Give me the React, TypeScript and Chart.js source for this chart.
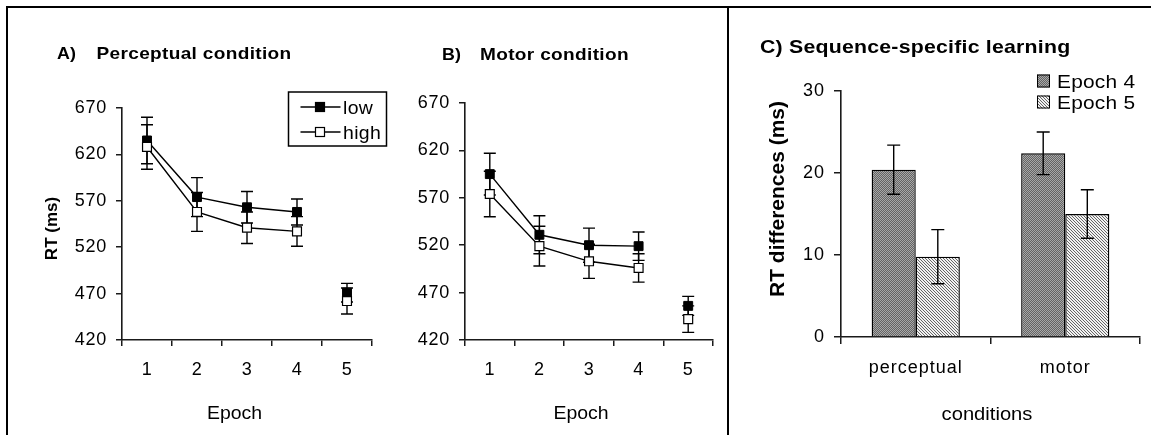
import React, { useEffect, useRef } from 'react';
import { Chart, registerables } from 'chart.js';

Chart.register(...registerables);

// ---------- data ----------
const epochs = ['1', '2', '3', '4', '5'];

const percLow = [635, 574, 563, 558, 471];
const percLowErr = [25, 21, 17, 14, 10];
const percHigh = [628, 558, 541, 537, 462];
const percHighErr = [24, 21, 17, 16, 14];

const motorLow = [595, 531, 520, 519, 456];
const motorLowErr = [22, 20, 18, 15, 10];
const motorHigh = [574, 519, 503, 496, 442];
const motorHighErr = [24, 21, 18, 15, 14];

const conditions = ['perceptual', 'motor'];
const epoch4 = [20.4, 22.4];
const epoch4Err = [3.0, 2.6];
const epoch5 = [9.8, 15.0];
const epoch5Err = [3.3, 2.95];

const rtMin = 420;
const rtMax = 670;
const rtStep = 50;
const diffMin = 0;
const diffMax = 30;
const diffStep = 10;

const seriesNames = ['low', 'high'];
const barNames = ['Epoch 4', 'Epoch 5'];

// ---------- styling ----------
const FONT = '"Liberation Sans", Arial, Helvetica, sans-serif';
const AXIS = '#1a1a1a';
const H = 435;

Chart.defaults.font.family = FONT;
Chart.defaults.color = '#000';

type TextItem = {
  text: string;
  x: number;
  y: number;
  font: string;
  align?: CanvasTextAlign;
  baseline?: CanvasTextBaseline;
  rotate?: number;
  ls?: number;
  sx?: number;
};

const spacingPlugin = (ls: string) => ({
  id: 'letterSpacing',
  beforeLayout(chart: any) {
    chart.ctx.letterSpacing = ls;
  },
  beforeDraw(chart: any) {
    chart.ctx.letterSpacing = ls;
  },
});

function drawText(ctx: any, t: TextItem) {
  ctx.save();
  ctx.font = t.font;
  ctx.fillStyle = '#000';
  ctx.letterSpacing = (t.ls || 0) + 'px';
  ctx.textAlign = t.align || 'left';
  ctx.textBaseline = t.baseline || 'alphabetic';
  ctx.translate(t.x, t.y);
  if (t.rotate) ctx.rotate(t.rotate);
  if (t.sx) ctx.scale(t.sx, 1);
  ctx.fillText(t.text, 0, 0);
  ctx.restore();
}

const textPlugin = (items: TextItem[]) => ({
  id: 'texts',
  afterDraw(chart: any) {
    items.forEach((t) => drawText(chart.ctx, t));
  },
});

function drawErrors(chart: any, cap: number, width: number) {
  const ctx = chart.ctx;
  const ys = chart.scales.y;
  chart.data.datasets.forEach((ds: any, di: number) => {
    const errs: number[] | undefined = ds.errors;
    if (!errs) return;
    const meta = chart.getDatasetMeta(di);
    meta.data.forEach((el: any, i: number) => {
      const v = ds.data[i];
      const e = errs[i];
      if (v == null || e == null) return;
      const x = el.x;
      const yt = ys.getPixelForValue(v + e);
      const yb = ys.getPixelForValue(v - e);
      ctx.save();
      ctx.strokeStyle = '#000';
      ctx.lineWidth = width;
      ctx.beginPath();
      ctx.moveTo(x, yt);
      ctx.lineTo(x, yb);
      ctx.moveTo(x - cap, yt);
      ctx.lineTo(x + cap, yt);
      ctx.moveTo(x - cap, yb);
      ctx.lineTo(x + cap, yb);
      ctx.stroke();
      ctx.restore();
    });
  });
}

const errorPlugin = (under: boolean, cap: number, width: number) => ({
  id: 'errorBars',
  beforeDatasetsDraw(chart: any) {
    if (under) drawErrors(chart, cap, width);
  },
  afterDatasetsDraw(chart: any) {
    if (!under) drawErrors(chart, cap, width);
  },
});

const lineLegendPlugin = (box: { x: number; y: number; w: number; h: number }, rows: number[]) => ({
  id: 'lineLegend',
  afterDraw(chart: any) {
    const ctx = chart.ctx;
    ctx.save();
    ctx.strokeStyle = '#000';
    ctx.lineWidth = 1.5;
    ctx.strokeRect(box.x, box.y, box.w, box.h);
    seriesNames.forEach((name, i) => {
      const y = rows[i];
      ctx.beginPath();
      ctx.lineWidth = 1.4;
      ctx.moveTo(box.x + 12, y);
      ctx.lineTo(box.x + 52, y);
      ctx.stroke();
      ctx.fillStyle = i === 0 ? '#000' : '#fff';
      ctx.fillRect(box.x + 27, y - 4.5, 9, 9);
      ctx.lineWidth = 1.2;
      ctx.strokeRect(box.x + 27, y - 4.5, 9, 9);
    });
    ctx.restore();
    seriesNames.forEach((name, i) => {
      drawText(ctx, { text: name, x: box.x + 54.5, y: rows[i] + 6.5, font: '18px ' + FONT, sx: 1.08, ls: 0.3 });
    });
  },
});

function makePattern(kind: 'dots' | 'hatch'): CanvasPattern | string {
  const c = document.createElement('canvas');
  const x = c.getContext('2d');
  if (!x) return '#999';
  if (kind === 'dots') {
    c.width = 2;
    c.height = 2;
    x.fillStyle = '#a8a8a8';
    x.fillRect(0, 0, 2, 2);
    x.fillStyle = '#646464';
    x.fillRect(0, 0, 1, 1);
    x.fillRect(1, 1, 1, 1);
  } else {
    c.width = 3;
    c.height = 3;
    x.fillStyle = '#f2f2f2';
    x.fillRect(0, 0, 3, 3);
    x.fillStyle = '#666666';
    for (let i = 0; i < 3; i++) x.fillRect(i, i, 1, 1);
  }
  return x.createPattern(c, 'repeat') || '#999';
}

const barLegendPlugin = (x0: number, rows: number[], fills: any[]) => ({
  id: 'barLegend',
  afterDraw(chart: any) {
    const ctx = chart.ctx;
    ctx.save();
    barNames.forEach((name, i) => {
      const y = rows[i];
      ctx.fillStyle = fills[i];
      ctx.fillRect(x0, y - 6.5, 13, 13);
      ctx.strokeStyle = '#000';
      ctx.lineWidth = 1;
      ctx.strokeRect(x0 + 0.5, y - 6, 12, 12);
    });
    ctx.restore();
    barNames.forEach((name, i) => {
      drawText(ctx, { text: name, x: x0 + 20, y: rows[i] + 6.8, font: '19px ' + FONT, sx: 1.1, ls: 0.2 });
    });
  },
});

function axisX(tickLength: number, fontSize: number, padding: number, height: number) {
  return {
    type: 'category' as const,
    offset: true,
    grid: {
      offset: true,
      drawOnChartArea: false,
      drawTicks: true,
      tickLength,
      color: AXIS,
      lineWidth: 1.5,
    },
    border: { display: true, color: AXIS, width: 1.6 },
    ticks: {
      color: '#000',
      font: { size: fontSize, family: FONT },
      padding,
      maxRotation: 0,
      autoSkip: false,
    },
    afterFit: (s: any) => {
      s.height = height;
    },
  };
}

function axisY(min: number, max: number, step: number, tickLength: number, fontSize: number, padding: number, width: number) {
  return {
    min,
    max,
    grid: {
      drawOnChartArea: false,
      drawTicks: true,
      tickLength,
      color: AXIS,
      lineWidth: 1.5,
    },
    border: { display: true, color: AXIS, width: 1.6 },
    ticks: {
      stepSize: step,
      color: '#000',
      font: { size: fontSize, family: FONT },
      padding,
    },
    afterFit: (s: any) => {
      s.width = width;
    },
  };
}

function lineConfig(
  low: number[],
  lowErr: number[],
  high: number[],
  highErr: number[],
  padding: { left: number; right: number; top: number; bottom: number },
  texts: TextItem[],
  extra: any[]
): any {
  const seg = {
    borderColor: (c: any) => (c.p0DataIndex === 3 ? 'rgba(0,0,0,0)' : '#000'),
  };
  return {
    type: 'line',
    data: {
      labels: epochs,
      datasets: [
        {
          label: seriesNames[0],
          data: low,
          errors: lowErr,
          borderColor: '#000',
          borderWidth: 1.4,
          pointStyle: 'rect',
          pointRadius: 6.3,
          pointHoverRadius: 6.3,
          pointBackgroundColor: '#000',
          pointBorderColor: '#000',
          pointBorderWidth: 1,
          order: 2,
          segment: seg,
        },
        {
          label: seriesNames[1],
          data: high,
          errors: highErr,
          borderColor: '#000',
          borderWidth: 1.4,
          pointStyle: 'rect',
          pointRadius: 6.3,
          pointHoverRadius: 6.3,
          pointBackgroundColor: '#fff',
          pointBorderColor: '#000',
          pointBorderWidth: 1.2,
          order: 1,
          segment: seg,
        },
      ],
    },
    options: {
      responsive: false,
      animation: false,
      layout: { padding },
      plugins: { legend: { display: false }, tooltip: { enabled: false } },
      scales: {
        x: axisX(6, 18, 13, 60),
        y: axisY(rtMin, rtMax, rtStep, 6, 18, 9, 60),
      },
    },
    plugins: [spacingPlugin('0.7px'), errorPlugin(true, 6, 1.4), textPlugin(texts), ...extra],
  };
}

function configA(): any {
  return lineConfig(
    percLow,
    percLowErr,
    percHigh,
    percHighErr,
    { left: 62, right: 28, top: 108, bottom: 35 },
    [
      { text: 'A)', x: 57, y: 58.5, font: 'bold 17px ' + FONT, sx: 1.05 },
      { text: 'Perceptual condition', x: 96.5, y: 58.5, font: 'bold 17px ' + FONT, sx: 1.12, ls: 0.3 },
      { text: 'RT (ms)', x: 52, y: 228.5, font: 'bold 17px ' + FONT, align: 'center', baseline: 'middle', rotate: -Math.PI / 2 },
      { text: 'Epoch', x: 234.5, y: 419, font: '18px ' + FONT, align: 'center', sx: 1.08 },
    ],
    [lineLegendPlugin({ x: 288.5, y: 92, w: 98, h: 54 }, [107, 132])]
  );
}

function configB(): any {
  return lineConfig(
    motorLow,
    motorLowErr,
    motorHigh,
    motorHighErr,
    { left: 5, right: 14, top: 103, bottom: 35 },
    [
      { text: 'B)', x: 42, y: 59.5, font: 'bold 17px ' + FONT, sx: 1.05 },
      { text: 'Motor condition', x: 80, y: 59.5, font: 'bold 17px ' + FONT, sx: 1.12, ls: 0.3 },
      { text: 'Epoch', x: 181, y: 418.5, font: '18px ' + FONT, align: 'center', sx: 1.08 },
    ],
    []
  );
}

function configC(): any {
  const p4 = makePattern('dots');
  const p5 = makePattern('hatch');
  return {
    type: 'bar',
    data: {
      labels: conditions,
      datasets: [
        {
          label: barNames[0],
          data: epoch4,
          errors: epoch4Err,
          backgroundColor: p4,
          borderColor: '#000',
          borderWidth: 1.4,
          categoryPercentage: 0.59,
          barPercentage: 1,
        },
        {
          label: barNames[1],
          data: epoch5,
          errors: epoch5Err,
          backgroundColor: p5,
          borderColor: '#000',
          borderWidth: 1.4,
          categoryPercentage: 0.59,
          barPercentage: 1,
        },
      ],
    },
    options: {
      responsive: false,
      animation: false,
      layout: { padding: { left: 54, right: 11, top: 91, bottom: 38 } },
      plugins: { legend: { display: false }, tooltip: { enabled: false } },
      scales: {
        x: axisX(7, 18, 13, 60),
        y: axisY(diffMin, diffMax, diffStep, 7, 18, 9, 60),
      },
    },
    plugins: [
      spacingPlugin('1px'),
      errorPlugin(false, 6.5, 1.4),
      textPlugin([
        { text: 'C) Sequence-specific learning', x: 33, y: 52.7, font: 'bold 19px ' + FONT, sx: 1.12, ls: 0.2 },
        { text: 'RT differences (ms)', x: 51, y: 199, font: 'bold 21px ' + FONT, align: 'center', baseline: 'middle', rotate: -Math.PI / 2 },
        { text: 'conditions', x: 260, y: 420, font: '18px ' + FONT, align: 'center', sx: 1.12 },
      ]),
      barLegendPlugin(310, [81, 102], [p4, p5]),
    ],
  };
}

function ChartBox({ left, width, make }: { left: number; width: number; make: () => any }) {
  const ref = useRef<HTMLCanvasElement>(null);
  useEffect(() => {
    if (!ref.current) return;
    const chart = new Chart(ref.current, make());
    return () => chart.destroy();
  }, []);
  return (
    <canvas
      ref={ref}
      width={width}
      height={H}
      style={{ position: 'absolute', left, top: 0, width, height: H }}
    />
  );
}

export default function App() {
  const line = (l: number, t: number, w: number, h: number) => (
    <div style={{ position: 'absolute', left: l, top: t, width: w, height: h, background: '#000' }} />
  );
  return (
    <div
      style={{
        position: 'absolute',
        left: 0,
        top: 0,
        width: 1151,
        height: H,
        background: '#fff',
        overflow: 'hidden',
      }}
    >
      <ChartBox left={0} width={400} make={configA} />
      <ChartBox left={400} width={327} make={configB} />
      <ChartBox left={727} width={424} make={configC} />
      {line(6, 6, 1145, 2)}
      {line(6, 6, 2, H - 6)}
      {line(727, 6, 2, H - 6)}
    </div>
  );
}
